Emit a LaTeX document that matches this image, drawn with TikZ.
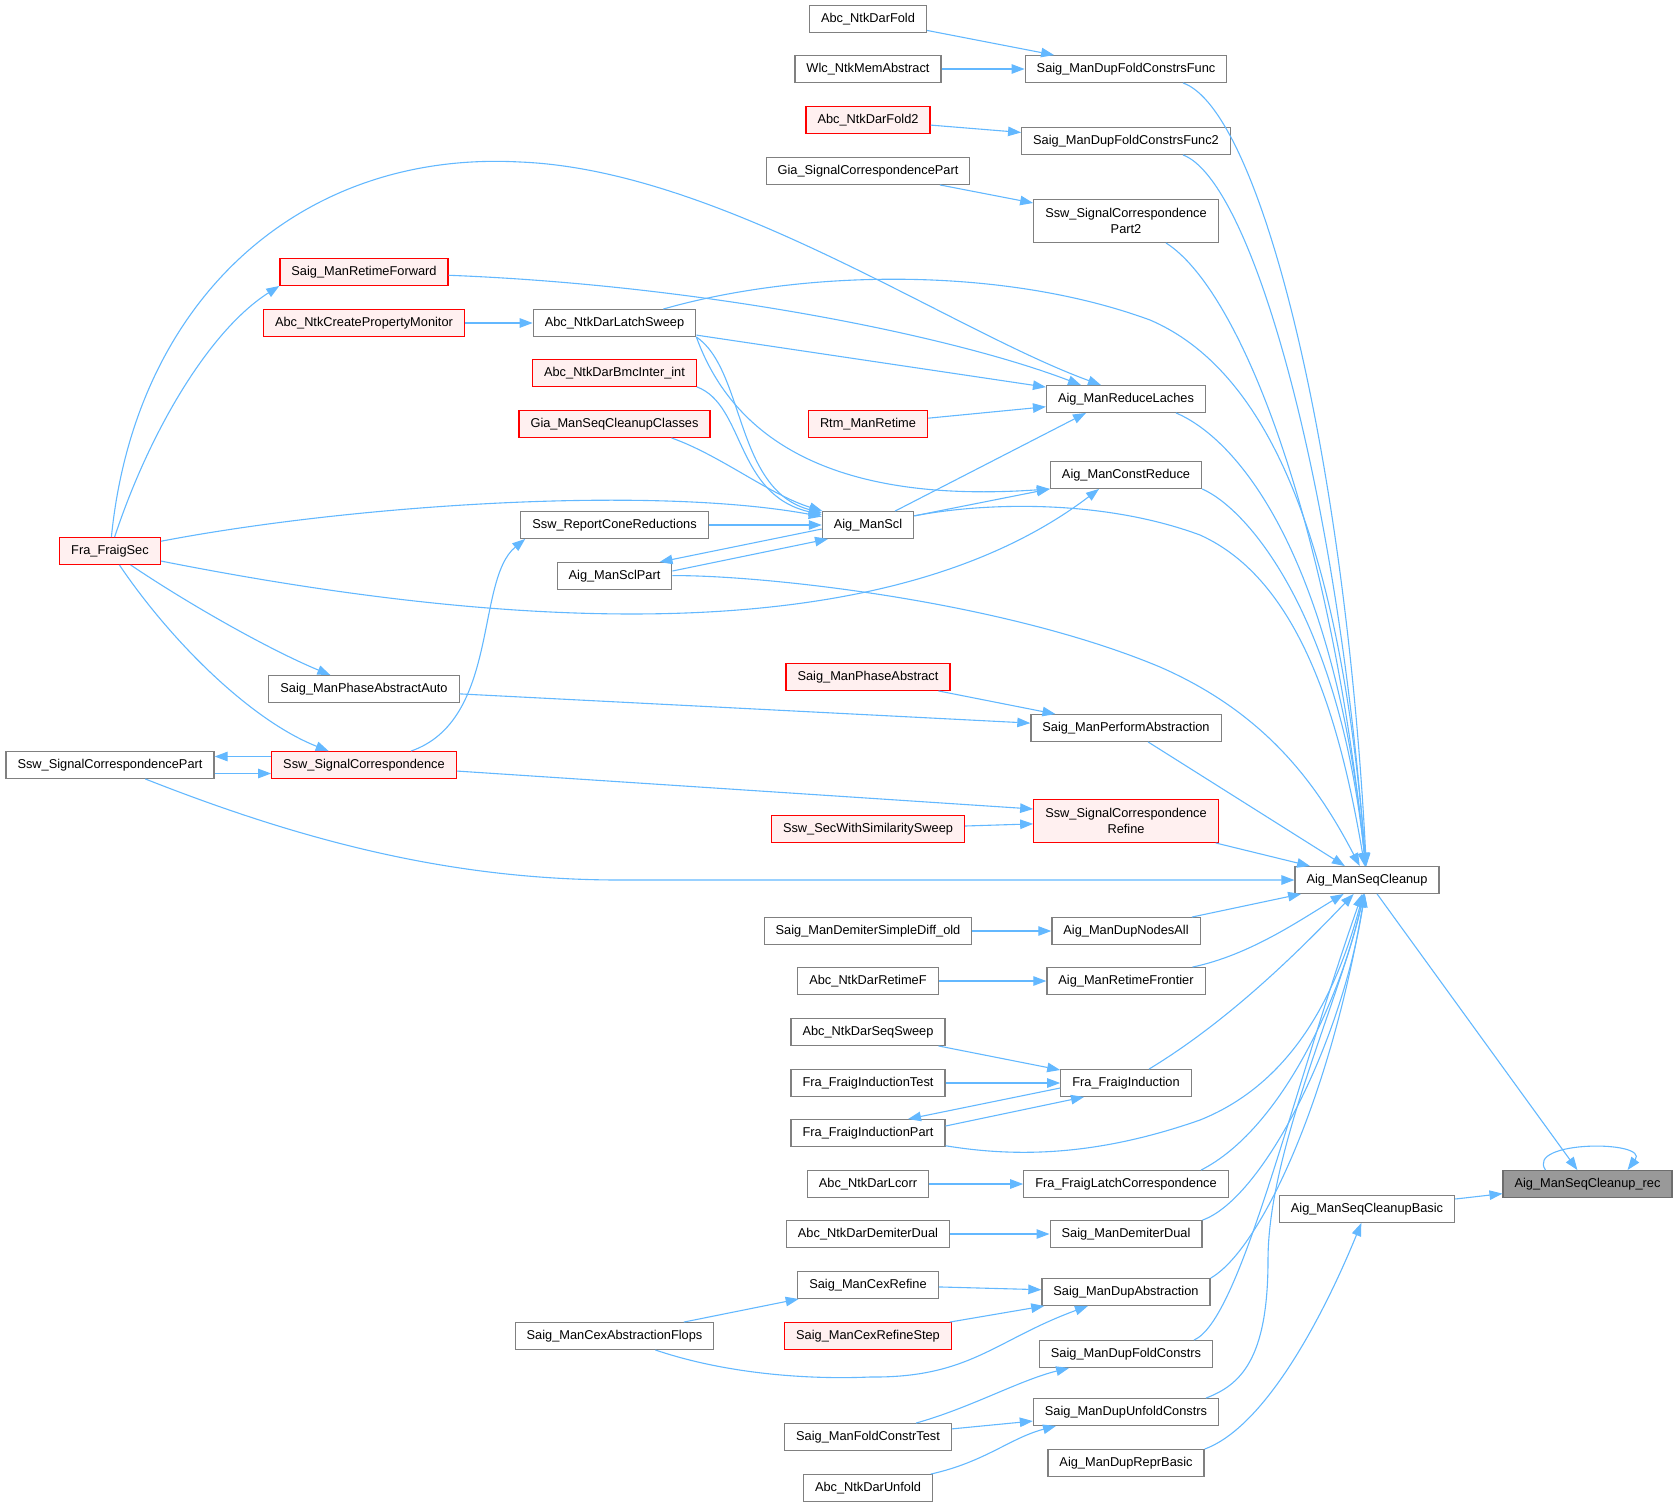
\documentclass[tikz,border=0pt]{standalone}
\usepackage{fontspec}
\usepackage{tikz}
\usetikzlibrary{arrows.meta,positioning,calc}
\newfontfamily\dotfont{Liberation Sans}
\definecolor{edgeblue}{HTML}{63B8FF}
\definecolor{boxgray}{HTML}{808080}
\definecolor{redfill}{HTML}{FFF0F0}
\definecolor{rootfill}{HTML}{999999}

\begin{document}
\begin{tikzpicture}[x=1pt, y=-1pt,
  fn/.style={draw=boxgray, fill=white, line width=1.2pt, minimum height=26.7pt,
    inner xsep=11.5pt, inner ysep=0pt, font=\dotfont\fontsize{12.8}{16}\selectfont},
  fn2/.style={align=center, minimum height=42.7pt},
  fnred/.style={fn, draw=red, fill=redfill},
  fnroot/.style={fn, draw=boxgray!85!black, fill=rootfill},
  call/.style={-{Triangle[length=13pt, width=9.5pt]}, draw=edgeblue, line width=1.1pt}
]
\useasboundingbox (0,0) rectangle (1677,1507);

\node[fn] (darfold) at (868,19) {Abc\_NtkDarFold};
\node[fn] (memabs) at (868,69) {Wlc\_NtkMemAbstract};
\node[fnred] (darfold2) at (868,120) {Abc\_NtkDarFold2};
\node[fn] (giapart) at (868,171) {Gia\_SignalCorrespondencePart};
\node[fn] (foldfunc) at (1126,69) {Saig\_ManDupFoldConstrsFunc};
\node[fn] (foldfunc2) at (1126,141) {Saig\_ManDupFoldConstrsFunc2};
\node[fn, fn2] (part2) at (1126,221) {Ssw\_SignalCorrespondence\\Part2};
\node[fnred] (retimefwd) at (364,272) {Saig\_ManRetimeForward};
\node[fnred] (propmon) at (364,323) {Abc\_NtkCreatePropertyMonitor};
\node[fn] (latchsweep) at (614.5,323) {Abc\_NtkDarLatchSweep};
\node[fnred] (bmcinter) at (614.5,373) {Abc\_NtkDarBmcInter\_int};
\node[fnred] (cleanupcls) at (614.5,424) {Gia\_ManSeqCleanupClasses};
\node[fnred] (rtm) at (868,424) {Rtm\_ManRetime};
\node[fn] (redlaches) at (1126,399) {Aig\_ManReduceLaches};
\node[fn] (constred) at (1126,475) {Aig\_ManConstReduce};
\node[fn] (conered) at (614.5,525) {Ssw\_ReportConeReductions};
\node[fn] (scl) at (868,525) {Aig\_ManScl};
\node[fnred] (fraigsec) at (110,551) {Fra\_FraigSec};
\node[fn] (sclpart) at (614.5,576) {Aig\_ManSclPart};
\node[fnred] (phaseabs) at (868,677) {Saig\_ManPhaseAbstract};
\node[fn] (phaseauto) at (364,689) {Saig\_ManPhaseAbstractAuto};
\node[fn] (perfabs) at (1126,728) {Saig\_ManPerformAbstraction};
\node[fn] (sscpart) at (110,765) {Ssw\_SignalCorrespondencePart};
\node[fnred] (sigcorr) at (364,765) {Ssw\_SignalCorrespondence};
\node[fnred, fn2] (refine) at (1126,821) {Ssw\_SignalCorrespondence\\Refine};
\node[fnred] (simsweep) at (868,829) {Ssw\_SecWithSimilaritySweep};
\node[fn] (seqclean) at (1367,880) {Aig\_ManSeqCleanup};
\node[fn] (simpdiff) at (868,931) {Saig\_ManDemiterSimpleDiff\_old};
\node[fn] (nodesall) at (1126,931) {Aig\_ManDupNodesAll};
\node[fn] (retimef) at (868,981) {Abc\_NtkDarRetimeF};
\node[fn] (retfront) at (1126,981) {Aig\_ManRetimeFrontier};
\node[fn] (seqsweep) at (868,1032) {Abc\_NtkDarSeqSweep};
\node[fn] (indtest) at (868,1083) {Fra\_FraigInductionTest};
\node[fn] (induction) at (1126,1083) {Fra\_FraigInduction};
\node[fn] (indpart) at (868,1133) {Fra\_FraigInductionPart};
\node[fn] (lcorr) at (868,1184) {Abc\_NtkDarLcorr};
\node[fn] (latchcorr) at (1126,1184) {Fra\_FraigLatchCorrespondence};
\node[fnroot] (rec) at (1587.5,1184) {Aig\_ManSeqCleanup\_rec};
\node[fn] (cleanbasic) at (1367,1209) {Aig\_ManSeqCleanupBasic};
\node[fn] (demdual) at (868,1234) {Abc\_NtkDarDemiterDual};
\node[fn] (saigdual) at (1126,1234) {Saig\_ManDemiterDual};
\node[fn] (cexrefine) at (868,1285) {Saig\_ManCexRefine};
\node[fn] (dupabs) at (1126,1292) {Saig\_ManDupAbstraction};
\node[fnred] (cexstep) at (868,1336) {Saig\_ManCexRefineStep};
\node[fn] (cexflops) at (614.5,1336) {Saig\_ManCexAbstractionFlops};
\node[fn] (foldcons) at (1126,1354) {Saig\_ManDupFoldConstrs};
\node[fn] (unfoldcons) at (1126,1412) {Saig\_ManDupUnfoldConstrs};
\node[fn] (foldtest) at (868,1437) {Saig\_ManFoldConstrTest};
\node[fn] (reprbasic) at (1126,1463) {Aig\_ManDupReprBasic};
\node[fn] (unfold) at (868,1488) {Abc\_NtkDarUnfold};

\draw[call] (darfold) -- (foldfunc);
\draw[call] (memabs) -- (foldfunc);
\draw[call] (darfold2) -- (foldfunc2);
\draw[call] (giapart) -- (part2);
\draw[call] ([xshift=57pt]foldfunc.south) .. controls (1260,110) and (1345,450) .. (seqclean);
\draw[call] ([xshift=57pt]foldfunc2.south) .. controls (1250,180) and (1335,470) .. (seqclean);
\draw[call] ([xshift=40pt]part2.south) .. controls (1240,290) and (1330,520) .. (seqclean);
\draw[call] (propmon) -- (latchsweep);
\draw[call] (latchsweep) .. controls (800,270) and (1000,265) .. (1150,320) .. controls (1290,380) and (1345,600) .. (seqclean);
\draw[call] (latchsweep) -- (redlaches);
\draw[call] (latchsweep.south east) .. controls (745,370) and (735,490) .. (scl);
\draw[call] (latchsweep.south east) .. controls (730,430) and (820,505) .. (constred.south west);
\draw[call] (fraigsec) .. controls (150,430) and (210,330) .. (retimefwd.south west);
\draw[call] (fraigsec) .. controls (135,300) and (300,150) .. (520,162) .. controls (720,170) and (950,330) .. ([xshift=-25pt]redlaches.north);
\draw[call] (retimefwd) .. controls (700,285) and (950,335) .. ([xshift=-45pt]redlaches.north);
\draw[call] (rtm) -- (redlaches);
\draw[call] ([xshift=50pt]redlaches.south) .. controls (1240,440) and (1335,560) .. (seqclean);
\draw[call] (constred.south east) .. controls (1250,510) and (1340,620) .. (seqclean);
\draw[call] (bmcinter.south east) .. controls (745,405) and (735,495) .. (scl);
\draw[call] ([xshift=57pt]cleanupcls.south) .. controls (720,455) and (770,495) .. (scl);
\draw[call] (fraigsec) .. controls (350,505) and (650,485) .. (scl);
\draw[call] (conered) -- (scl);
\draw[call] ([yshift=-4pt]scl.west) -- ([xshift=45pt]sclpart.north);
\draw[call] ([yshift=5pt]sclpart.east) -- ([xshift=-40pt]scl.south);
\draw[call] (scl) -- ([xshift=-40pt]redlaches.south);
\draw[call] (scl) -- (constred.south west);
\draw[call] (scl) .. controls (980,503) and (1100,498) .. (1200,535) .. controls (1300,580) and (1340,720) .. (seqclean);
\draw[call] (fraigsec) .. controls (560,640) and (900,640) .. ([xshift=-27pt]constred.south);
\draw[call] (sclpart) .. controls (760,575) and (1000,600) .. (1160,667) .. controls (1270,715) and (1320,790) .. (seqclean);
\draw[call] ([xshift=47pt]sigcorr.north) .. controls (500,720) and (475,580) .. ([xshift=5pt]conered.south west);
\draw[call] (fraigsec) .. controls (190,605) and (270,650) .. (phaseauto);
\draw[call] (fraigsec) .. controls (170,640) and (250,720) .. (sigcorr);
\draw[call] ([yshift=8.5pt]sigcorr.west) -- ([yshift=8.5pt]sscpart.east);
\draw[call] ([yshift=-8.5pt]sscpart.east) -- ([yshift=-8.5pt]sigcorr.west);
\draw[call] (sigcorr) -- ([yshift=12pt]refine.west);
\draw[call] (simsweep) -- (refine);
\draw[call] (phaseauto) -- (perfabs);
\draw[call] (phaseabs) -- (perfabs);
\draw[call] (perfabs) -- (seqclean);
\draw[call] (refine) -- (seqclean);
\draw[call] (sscpart) .. controls (300,840) and (450,880) .. (620,880) -- (seqclean);
\draw[call] (simpdiff) -- (nodesall);
\draw[call] (nodesall) -- (seqclean);
\draw[call] (retimef) -- (retfront);
\draw[call] (retfront) .. controls (1250,955) and (1300,920) .. (seqclean);
\draw[call] (seqsweep) -- (induction);
\draw[call] (indtest) -- (induction);
\draw[call] ([yshift=-5pt]induction.west) -- ([xshift=40pt]indpart.north);
\draw[call] ([yshift=7pt]indpart.east) -- ([xshift=-42pt]induction.south);
\draw[call] (induction) .. controls (1230,1020) and (1300,950) .. (seqclean);
\draw[call] (indpart) .. controls (1020,1158) and (1100,1155) .. (1200,1120) .. controls (1300,1080) and (1340,980) .. (seqclean);
\draw[call] (lcorr) -- (latchcorr);
\draw[call] ([xshift=75pt]latchcorr.north) .. controls (1280,1130) and (1340,1000) .. (seqclean);
\draw[call] (demdual) -- (saigdual);
\draw[call] (saigdual.north east) .. controls (1260,1200) and (1340,1050) .. (seqclean);
\draw[call] (cexrefine) -- (dupabs);
\draw[call] (cexstep) -- (dupabs);
\draw[call] (cexflops) -- (cexrefine);
\draw[call] (cexflops) .. controls (720,1372) and (800,1380) .. (870,1377) .. controls (970,1378) and (995,1340) .. (dupabs);
\draw[call] (dupabs.north east) .. controls (1260,1250) and (1330,1100) .. (seqclean);
\draw[call] ([xshift=68pt]foldcons.north) .. controls (1240,1320) and (1290,1100) .. (seqclean);
\draw[call] ([xshift=80pt]unfoldcons.north) .. controls (1240,1385) and (1268,1360) .. (1268,1260) .. controls (1268,1150) and (1340,1000) .. (seqclean);
\draw[call] ([xshift=48pt]foldtest.north) .. controls (970,1408) and (1020,1380) .. (foldcons);
\draw[call] (foldtest) -- (unfoldcons);
\draw[call] (unfold) .. controls (985,1462) and (1010,1438) .. ([xshift=-70pt]unfoldcons.south);
\draw[call] (reprbasic.north east) .. controls (1270,1425) and (1330,1300) .. (cleanbasic);
\draw[call] (seqclean) -- (rec);
\draw[call] (cleanbasic) -- (rec);
\draw[call] ([xshift=-42pt]rec.north) .. controls (1525,1140) and (1650,1140) .. ([xshift=40pt]rec.north);
\end{tikzpicture}
\end{document}
